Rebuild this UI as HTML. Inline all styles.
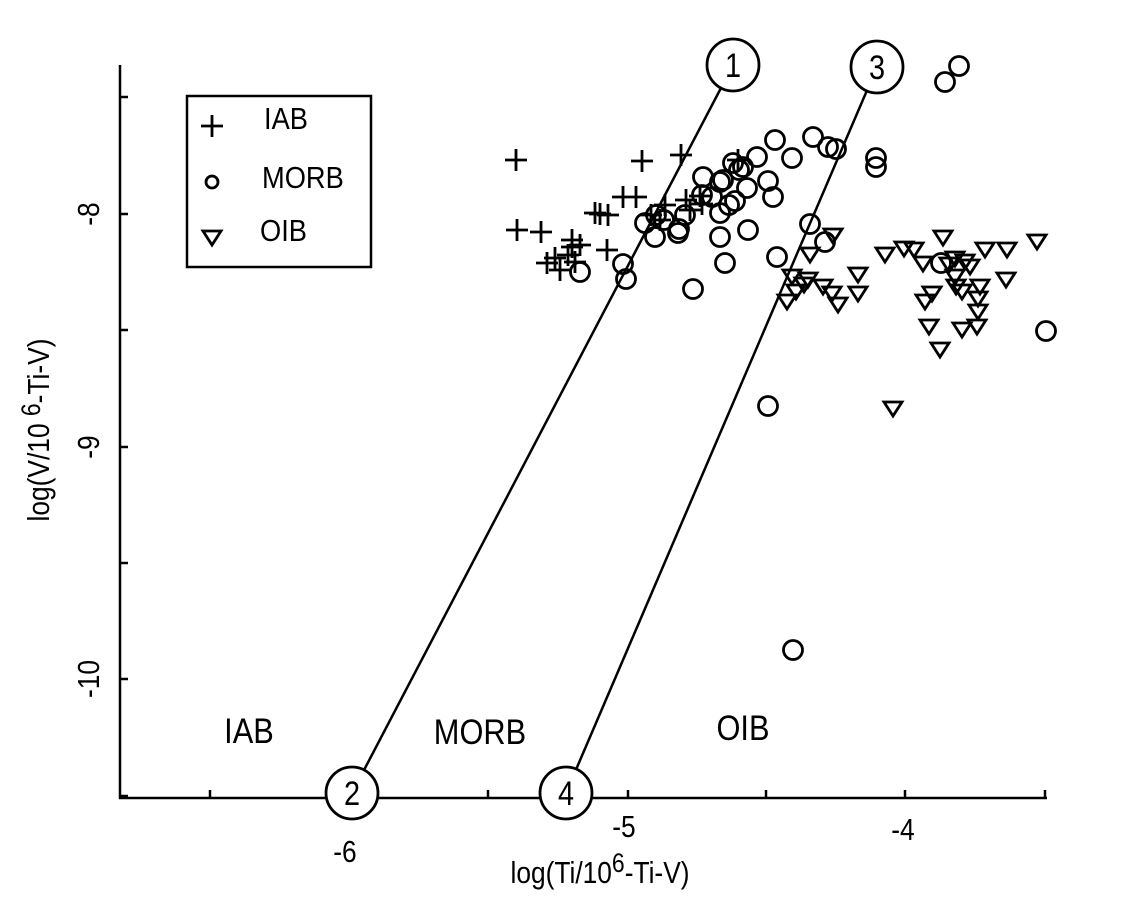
<!DOCTYPE html>
<html><head><meta charset="utf-8"><style>
html,body{margin:0;padding:0;background:#fff;}
svg{display:block;}
text{font-family:"Liberation Sans",Arial,sans-serif;fill:#000;}
</style></head><body>
<svg width="1125" height="900" viewBox="0 0 1125 900" xmlns="http://www.w3.org/2000/svg">
<g stroke="#000" stroke-width="2.5" fill="none">
<line x1="120" y1="65" x2="120" y2="799"/>
<line x1="119" y1="798" x2="1047" y2="798"/>
<line x1="120" y1="97" x2="128" y2="97"/>
<line x1="120" y1="214" x2="128" y2="214"/>
<line x1="120" y1="330" x2="128" y2="330"/>
<line x1="120" y1="447" x2="128" y2="447"/>
<line x1="120" y1="563" x2="128" y2="563"/>
<line x1="120" y1="679" x2="128" y2="679"/>
<line x1="120" y1="796" x2="128" y2="796"/>
<line x1="210" y1="798" x2="210" y2="790"/>
<line x1="488" y1="798" x2="488" y2="790"/>
<line x1="628" y1="798" x2="628" y2="790"/>
<line x1="766" y1="798" x2="766" y2="790"/>
<line x1="905" y1="798" x2="905" y2="790"/>
<line x1="1045" y1="798" x2="1045" y2="790"/>
<line x1="733" y1="65" x2="352" y2="793"/>
<line x1="877" y1="67" x2="566" y2="793"/>
<rect x="187" y="96" width="184" height="171"/>
</g>
<g stroke="#000" stroke-width="2.8" fill="#fff">
<circle cx="733" cy="65" r="26"/><circle cx="877" cy="67" r="26"/>
<circle cx="352" cy="793" r="26"/><circle cx="566" cy="793" r="26"/>
</g>
<g font-size="34" text-anchor="middle">
<text transform="translate(733,77) scale(0.85,1)">1</text><text transform="translate(877,79) scale(0.85,1)">3</text>
<text transform="translate(352,805) scale(0.85,1)">2</text><text transform="translate(566,805) scale(0.85,1)">4</text>
</g>
<g stroke="#000" stroke-width="2.8" fill="none">
<path d="M505 160h22M516 149v22 M631 161h22M642 150v22 M670 155h22M681 144v22 M625 197h22M636 186v22 M506 230h22M517 219v22 M530 232h22M541 221v22 M561 240h22M572 229v22 M561 247h22M572 236v22 M584 213h22M595 202v22 M597 215h22M608 204v22 M589 214h22M600 203v22 M536 263h22M547 252v22 M549 270h22M560 259v22 M544 258h22M555 247v22 M569 245h22M580 234v22 M596 250h22M607 239v22 M557 255h22M568 244v22 M564 262h22M575 251v22 M649 220h22M660 209v22 M689 196h22M700 185v22 M675 200h22M686 189v22 M691 204h22M702 193v22 M654 205h22M665 194v22 M679 210h22M690 199v22 M727 160h22M738 149v22 M612 197h22M623 186v22 M640 215h22M651 204v22"/>
</g>
<g stroke="#000" stroke-width="2.8" fill="none">
<circle cx="959" cy="66" r="9.5"/><circle cx="945" cy="82" r="9.5"/><circle cx="813" cy="137" r="9.5"/><circle cx="775" cy="140" r="9.5"/><circle cx="828" cy="147" r="9.5"/><circle cx="836" cy="149" r="9.5"/><circle cx="876" cy="158" r="9.5"/><circle cx="876" cy="167" r="9.5"/><circle cx="792" cy="158" r="9.5"/><circle cx="757" cy="157" r="9.5"/><circle cx="733" cy="163" r="9.5"/><circle cx="743" cy="167" r="9.5"/><circle cx="739" cy="170" r="9.5"/><circle cx="703" cy="177" r="9.5"/><circle cx="723" cy="180" r="9.5"/><circle cx="747" cy="188" r="9.5"/><circle cx="773" cy="197" r="9.5"/><circle cx="768" cy="181" r="9.5"/><circle cx="702" cy="195" r="9.5"/><circle cx="712" cy="197" r="9.5"/><circle cx="735" cy="201" r="9.5"/><circle cx="720" cy="213" r="9.5"/><circle cx="729" cy="205" r="9.5"/><circle cx="645" cy="223" r="9.5"/><circle cx="656" cy="215" r="9.5"/><circle cx="655" cy="237" r="9.5"/><circle cx="664" cy="220" r="9.5"/><circle cx="679" cy="229" r="9.5"/><circle cx="685" cy="215" r="9.5"/><circle cx="748" cy="230" r="9.5"/><circle cx="810" cy="224" r="9.5"/><circle cx="825" cy="242" r="9.5"/><circle cx="777" cy="257" r="9.5"/><circle cx="725" cy="263" r="9.5"/><circle cx="580" cy="272" r="9.5"/><circle cx="623" cy="264" r="9.5"/><circle cx="626" cy="279" r="9.5"/><circle cx="693" cy="289" r="9.5"/><circle cx="768" cy="406" r="9.5"/><circle cx="793" cy="650" r="9.5"/><circle cx="1046" cy="331" r="9.5"/><circle cx="941" cy="263" r="9.5"/><circle cx="678" cy="233" r="9.5"/><circle cx="720" cy="237" r="9.5"/><circle cx="720" cy="182" r="9.5"/>
<circle cx="212" cy="182" r="6"/>
</g>
<g stroke="#000" stroke-width="2.8" fill="none">
<path d="M801 248h18l-9 14z M824 229h18l-9 14z M783 270h18l-9 14z M799 273h18l-9 14z M778 295h18l-9 14z M787 285h18l-9 14z M795 278h18l-9 14z M814 280h18l-9 14z M829 298h18l-9 14z M823 287h18l-9 14z M849 268h18l-9 14z M849 287h18l-9 14z M876 248h18l-9 14z M895 242h18l-9 14z M905 243h18l-9 14z M934 231h18l-9 14z M914 257h18l-9 14z M946 252h18l-9 14z M961 260h18l-9 14z M946 270h18l-9 14z M956 255h18l-9 14z M976 243h18l-9 14z M998 243h18l-9 14z M1028 235h18l-9 14z M997 273h18l-9 14z M916 295h18l-9 14z M923 287h18l-9 14z M947 280h18l-9 14z M969 292h18l-9 14z M969 305h18l-9 14z M968 320h18l-9 14z M920 320h18l-9 14z M953 323h18l-9 14z M931 343h18l-9 14z M884 402h18l-9 14z M953 285h18l-9 14z M971 280h18l-9 14z M940 258h18l-9 14z"/>
<path d="M203 231h18l-9 14z"/>
<path d="M201 126h22M212 115v22"/>
</g>
<g font-size="31">
<text transform="translate(264,129) scale(0.88,1)">IAB</text>
<text transform="translate(262,188) scale(0.88,1)">MORB</text>
<text transform="translate(260,241) scale(0.88,1)">OIB</text>
</g>
<g font-size="35" text-anchor="middle">
<text transform="translate(249,743) scale(0.88,1)">IAB</text>
<text transform="translate(480,744) scale(0.88,1)">MORB</text>
<text transform="translate(743,740) scale(0.88,1)">OIB</text>
</g>
<g font-size="31" text-anchor="middle">
<text transform="translate(345,862) scale(0.85,1)">-6</text>
<text transform="translate(624,837) scale(0.85,1)">-5</text>
<text transform="translate(903,840) scale(0.85,1)">-4</text>
<text transform="translate(600,883) scale(0.85,1)">log(Ti/10<tspan dy="-11" font-size="27">6</tspan><tspan dy="11">-Ti-V)</tspan></text>
<text transform="translate(99,214) rotate(-90) scale(0.85,1)">-8</text>
<text transform="translate(99,447) rotate(-90) scale(0.85,1)">-9</text>
<text transform="translate(99,679) rotate(-90) scale(0.85,1)">-10</text>
<text transform="translate(49,430) rotate(-90) scale(0.85,1)">log(V/10 <tspan dy="-9" font-size="27">6</tspan><tspan dy="9">-Ti-V)</tspan></text>
</g>
</svg>
</body></html>
